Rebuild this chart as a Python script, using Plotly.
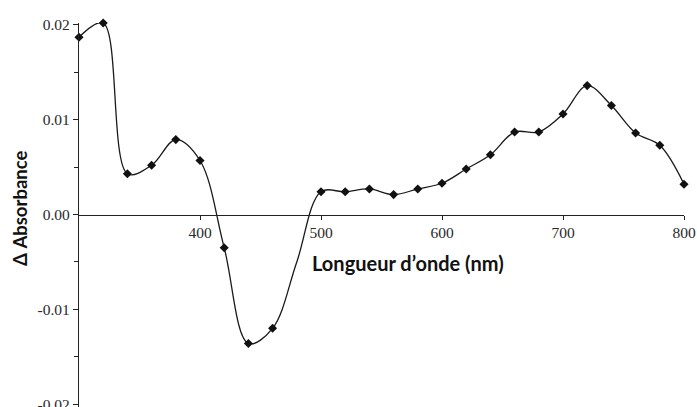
import plotly.graph_objects as go

wavelength = [300, 320, 340, 360, 380, 400, 420, 440, 460, 480, 500, 520, 540, 560, 580,
              600, 620, 640, 660, 680, 700, 720, 740, 760, 780, 800]
delta_abs = [0.0187, 0.0202, 0.0043, 0.0052, 0.0079, 0.0057, -0.0035, -0.0136, -0.0120, -0.0050,
             0.0024, 0.0024, 0.0027, 0.0021, 0.0027, 0.0033, 0.0048, 0.0063, 0.0087, 0.0087,
             0.0106, 0.0136, 0.0115, 0.0086, 0.0073, 0.0032]
# 480 nm has no marker drawn in the original
has_marker = [w != 480 for w in wavelength]

x_ticks = [400, 500, 600, 700, 800]
x_ticktext = ["400", "500", "600", "700", "800"]
y_ticks = [-0.02, -0.01, 0.0, 0.01, 0.02]
y_ticktext = ["-0.02", "-0.01", "0.00", "0.01", "0.02"]

y_min, y_max = -0.0203, 0.0202

fig = go.Figure()
fig.add_trace(go.Scatter(
    x=wavelength, y=delta_abs, mode="lines",
    line=dict(color="#1a1a1a", width=1.3, shape="spline", smoothing=1.0),
    cliponaxis=False, showlegend=False, hoverinfo="skip"))
fig.add_trace(go.Scatter(
    x=[w for w, m in zip(wavelength, has_marker) if m],
    y=[v for v, m in zip(delta_abs, has_marker) if m],
    mode="markers",
    marker=dict(symbol="diamond", size=7, color="#111111"),
    cliponaxis=False, showlegend=False))

serif = dict(family="Liberation Serif, Times New Roman, serif", size=15.5, color="#2a2a2a")

fig.update_layout(
    width=697, height=407,
    margin=dict(l=79, r=13, t=23, b=0, autoexpand=False),
    paper_bgcolor="white", plot_bgcolor="white",
    xaxis=dict(range=[300, 800], showgrid=False, zeroline=False, automargin=False,
               showline=True, linecolor="#222222", linewidth=1.2,
               ticks="outside", ticklen=4, tickcolor="#222222",
               tickvals=x_ticks, ticktext=x_ticktext, tickfont=serif,
               ticklabeloverflow="allow",
               anchor="free", position=(0 - y_min) / (y_max - y_min)),
    yaxis=dict(range=[y_min, y_max], showgrid=False, zeroline=False, automargin=False,
               showline=True, linecolor="#222222", linewidth=1.2,
               ticks="outside", ticklen=5, tickcolor="#222222",
               tickvals=y_ticks, ticktext=y_ticktext, tickfont=serif,
               ticklabeloverflow="allow",
               minor=dict(tickvals=[-0.015, -0.005, 0.005, 0.015], ticks="outside",
                          ticklen=4, tickcolor="#222222", showgrid=False)),
    annotations=[
        dict(text="<b>Longueur d’onde (nm)</b>", xref="paper", yref="paper",
             x=(408 - 79) / 605, y=(407 - 263) / 384, xanchor="center", yanchor="middle",
             showarrow=False, font=dict(family="Lato, Open Sans, sans-serif", size=20, color="#111111")),
        dict(text="<b>Δ Absorbance</b>", xref="paper", yref="paper",
             x=(20 - 79) / 605, y=(407 - 209) / 384, xanchor="center", yanchor="middle",
             textangle=-90, showarrow=False,
             font=dict(family="Lato, Open Sans, sans-serif", size=18.5, color="#111111")),
    ],
)

# remove the page's default body margin so the figure fills the window exactly
fig.write_html("out.html",
               config={"displayModeBar": False},
               post_script="document.body.style.margin='0';document.body.style.overflow='hidden';")
